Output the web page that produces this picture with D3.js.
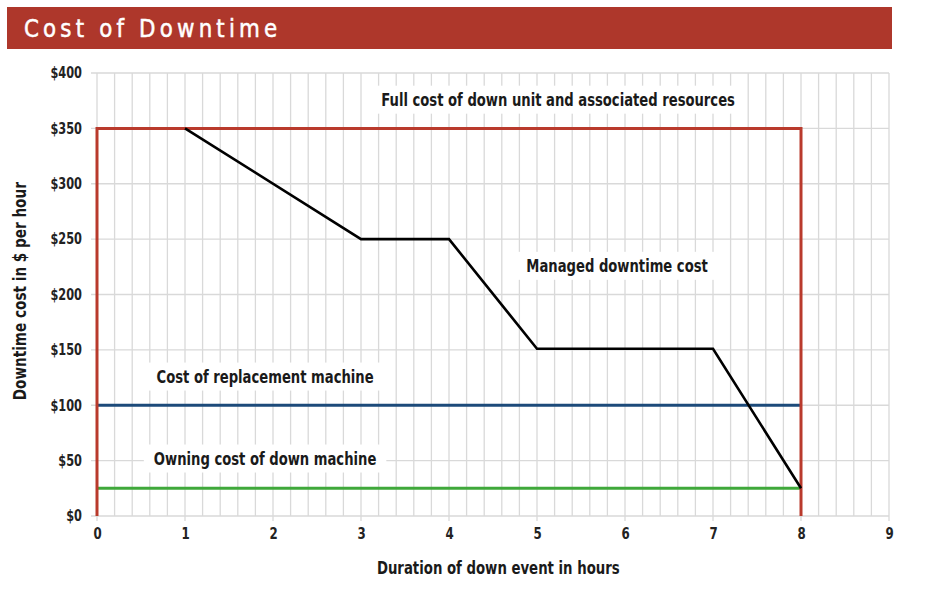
<!DOCTYPE html>
<html>
<head>
<meta charset="utf-8">
<script src="https://cdn.jsdelivr.net/npm/d3@7"></script>
<style>
  body { margin: 0; background: #fff; }
  svg text { font-family: "Liberation Sans Narrow", "DejaVu Sans Condensed", "Roboto Condensed", sans-serif; }
</style>
</head>
<body>
<div id="chart"></div>
<script>
// data
const hours = [1, 3, 4, 5, 7, 8];
const managedCost = [350, 250, 250, 151, 151, 25];
const fullCost = 350;
const replacementCost = 100;
const owningCost = 25;
const xTicks = [0, 1, 2, 3, 4, 5, 6, 7, 8, 9];
const yTicks = [0, 50, 100, 150, 200, 250, 300, 350, 400];
const labels = [
  { text: "Full cost of down unit and associated resources", x: 5.24, y: 375 },
  { text: "Managed downtime cost", x: 5.91, y: 225 },
  { text: "Cost of replacement machine", x: 1.91, y: 125 },
  { text: "Owning cost of down machine", x: 1.91, y: 51 }
];

const width = 926, height = 590;
const margin = { top: 73, right: 37, bottom: 74, left: 97 };

const svg = d3.select("#chart").append("svg")
  .attr("width", width).attr("height", height)
  .attr("viewBox", [0, 0, width, height]);

const x = d3.scaleLinear().domain([0, 9]).range([margin.left, width - margin.right]);
const y = d3.scaleLinear().domain([0, 400]).range([height - margin.bottom, margin.top]);

// squeeze text horizontally, the original uses a narrow face
function squeeze(sel, f) {
  sel.each(function () {
    const w = this.getComputedTextLength();
    d3.select(this).attr("textLength", w * f).attr("lengthAdjust", "spacingAndGlyphs");
  });
}

// title bar
svg.append("rect")
  .attr("x", 7).attr("y", 7).attr("width", 885).attr("height", 42)
  .attr("fill", "#ae372b");
svg.append("text")
  .attr("x", 24).attr("y", 37)
  .attr("fill", "#fff")
  .attr("font-size", 25)
  .attr("stroke", "#fff").attr("stroke-width", 0.5)
  .attr("letter-spacing", 4.4)
  .text("Cost of Downtime")
  .call(squeeze, 0.95);

// grid
const grid = svg.append("g").attr("stroke", "#d9d9d9").attr("stroke-width", 1.3);
grid.selectAll("line.v")
  .data(d3.range(0, 45 + 1).map(i => i / 5))
  .join("line")
  .attr("x1", d => x(d)).attr("x2", d => x(d))
  .attr("y1", y(400)).attr("y2", d => Number.isInteger(d) ? y(0) + 5 : y(0));
grid.selectAll("line.h")
  .data(yTicks)
  .join("line")
  .attr("x1", x(0) - 6).attr("x2", x(9))
  .attr("y1", d => y(d)).attr("y2", d => y(d));

// axes (labels only)
const xAxis = svg.append("g")
  .attr("transform", `translate(0,${y(0)})`)
  .call(d3.axisBottom(x).tickValues(xTicks).tickSize(0).tickPadding(12).tickFormat(d3.format("d")));
xAxis.select(".domain").remove();
xAxis.selectAll("text").attr("font-size", 16).attr("font-weight", "bold").attr("fill", "#222")
  .call(squeeze, 0.82);

const yAxis = svg.append("g")
  .attr("transform", `translate(${x(0)},0)`)
  .call(d3.axisLeft(y).tickValues(yTicks).tickSize(0).tickPadding(15).tickFormat(d => "$" + d));
yAxis.select(".domain").remove();
yAxis.selectAll("text").attr("font-size", 15).attr("font-weight", "bold").attr("fill", "#222")
  .call(squeeze, 0.84);

// label boxes (white behind text, hiding grid)
const lab = svg.append("g");
labels.forEach(l => {
  const t = lab.append("text")
    .attr("x", x(l.x)).attr("y", y(l.y))
    .attr("text-anchor", "middle")
    .attr("dominant-baseline", "middle")
    .attr("font-size", 17).attr("font-weight", "bold").attr("fill", "#1a1a1a")
    .text(l.text)
    .call(squeeze, 0.86);
  const b = t.node().getBBox();
  lab.insert("rect", "text")
    .attr("x", b.x - 10).attr("y", b.y - 4)
    .attr("width", b.width + 20).attr("height", b.height + 8)
    .attr("fill", "#fff");
});
lab.selectAll("text").raise();

// horizontal cost lines
svg.append("line")
  .attr("x1", x(0)).attr("x2", x(8))
  .attr("y1", y(owningCost)).attr("y2", y(owningCost))
  .attr("stroke", "#3fa83a").attr("stroke-width", 3);
svg.append("line")
  .attr("x1", x(0)).attr("x2", x(8))
  .attr("y1", y(replacementCost)).attr("y2", y(replacementCost))
  .attr("stroke", "#1c4a7a").attr("stroke-width", 3);

// full cost frame
svg.append("path")
  .attr("d", d3.line()([[x(0), y(0)], [x(0), y(fullCost)], [x(8), y(fullCost)], [x(8), y(0)]]))
  .attr("fill", "none").attr("stroke", "#b93a2c").attr("stroke-width", 3);

// managed downtime line
svg.append("path")
  .datum(hours.map((h, i) => [h, managedCost[i]]))
  .attr("d", d3.line().x(d => x(d[0])).y(d => y(d[1])))
  .attr("fill", "none").attr("stroke", "#000").attr("stroke-width", 2.6);

// axis titles
svg.append("text")
  .attr("x", x(4.56)).attr("y", 574)
  .attr("text-anchor", "middle")
  .attr("font-size", 18).attr("font-weight", "bold").attr("fill", "#1a1a1a")
  .text("Duration of down event in hours")
  .call(squeeze, 0.82);
svg.append("text")
  .attr("transform", `translate(26,${y(203)}) rotate(-90)`)
  .attr("text-anchor", "middle")
  .attr("font-size", 18).attr("font-weight", "bold").attr("fill", "#1a1a1a")
  .text("Downtime cost in $ per hour")
  .call(squeeze, 0.84);
</script>
</body>
</html>
